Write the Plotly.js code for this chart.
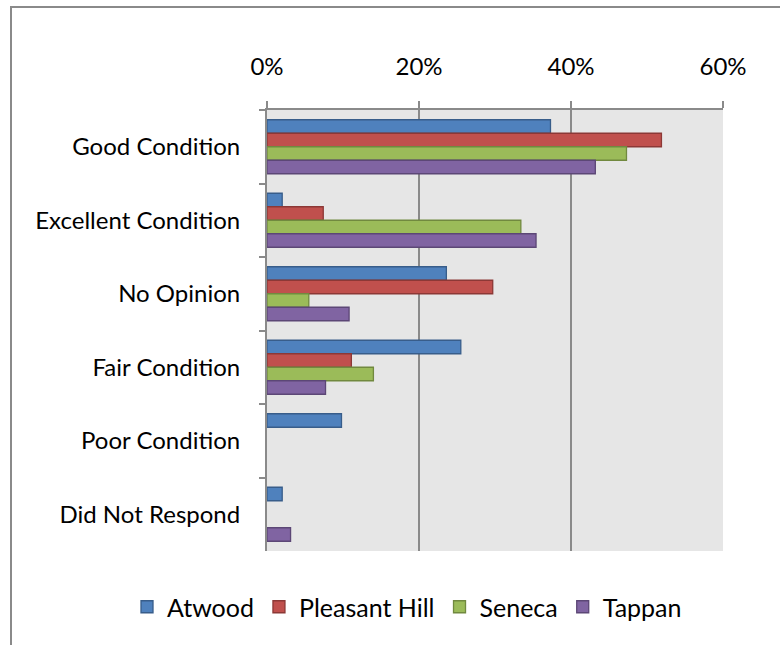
<!DOCTYPE html>
<html>
<head>
<meta charset="utf-8">
<script src="https://cdn.plot.ly/plotly-3.0.1.min.js"></script>
<style>html,body{margin:0;padding:0;background:#fff;}#chart{width:780px;height:645px;}</style>
</head>
<body>
<div id="chart"></div>
<script>
var categories = ['Good Condition','Excellent Condition','No Opinion','Fair Condition','Poor Condition','Did Not Respond'];
var seriesNames = ['Atwood','Pleasant Hill','Seneca','Tappan'];
var atwood = [0.373, 0.020, 0.236, 0.255, 0.098, 0.020];
var pleasantHill = [0.519, 0.074, 0.297, 0.111, 0, 0];
var seneca = [0.473, 0.334, 0.055, 0.140, 0, 0];
var tappan = [0.432, 0.354, 0.108, 0.077, 0, 0.031];
var xTicks = [0, 0.2, 0.4, 0.6];
var xTickLabels = ['0%','20%','40%','60%'];

var fills = ['#4F81BD','#C0504D','#9BBB59','#8064A2'];
var borders = ['#385D8A','#8C3836','#71893F','#5C4776'];
var values = [atwood, pleasantHill, seneca, tappan];

var FONT = 'Lato, Carlito, Calibri, sans-serif';

var traces = values.map(function(v, i){
  return {
    type: 'bar', orientation: 'h', name: seriesNames[i],
    x: v, y: categories,
    marker: {color: fills[i], line: {color: borders[i], width: v.map(function(d){ return d > 0 ? 1.3 : 0; })}},
    hoverinfo: 'x+y+name'
  };
});

var layout = {
  width: 780, height: 645,
  margin: {l: 267, r: 57, t: 110, b: 94, pad: 0, autoexpand: false},
  paper_bgcolor: '#ffffff',
  plot_bgcolor: '#e6e6e6',
  font: {family: FONT, size: 24, color: '#000000'},
  barmode: 'group', bargap: 0.265, bargroupgap: 0,
  showlegend: true,
  legend: {orientation: 'h', xref: 'paper', x: (127 - 267) / 456, xanchor: 'left',
           yref: 'paper', y: (551 - 607) / 441, yanchor: 'middle',
           font: {family: FONT, size: 25, color: '#000'}, traceorder: 'normal', itemwidth: 30,
           bgcolor: 'rgba(0,0,0,0)'},
  xaxis: {
    side: 'top', range: [0, 0.6], tickvals: xTicks, ticktext: xTickLabels,
    showgrid: true, gridcolor: '#8a8a8a', gridwidth: 2,
    showline: true, linecolor: '#8a8a8a', linewidth: 2,
    ticks: 'outside', ticklen: 7, tickwidth: 2, tickcolor: '#8a8a8a',
    ticklabelstandoff: 16, zeroline: false, fixedrange: true, automargin: false, tickangle: 0,
    tickfont: {family: FONT, size: 24, color: '#000'}
  },
  yaxis: {
    type: 'category', autorange: 'reversed',
    showline: true, linecolor: '#8a8a8a', linewidth: 2,
    ticks: 'outside', tickson: 'boundaries', ticklen: 6, tickwidth: 2, tickcolor: '#8a8a8a',
    showgrid: false, ticklabelstandoff: 20, fixedrange: true, automargin: false,
    tickfont: {family: FONT, size: 24, color: '#000'}
  },
  shapes: [{
    type: 'rect', xref: 'paper', yref: 'paper',
    x0: (11 - 267) / 456, x1: 2, y0: -1, y1: (551 - 7) / 441,
    line: {color: '#8a8a8a', width: 2}, fillcolor: 'rgba(0,0,0,0)', layer: 'below'
  }]
};

Plotly.newPlot('chart', traces, layout, {displayModeBar: false, staticPlot: true});
</script>
</body>
</html>
